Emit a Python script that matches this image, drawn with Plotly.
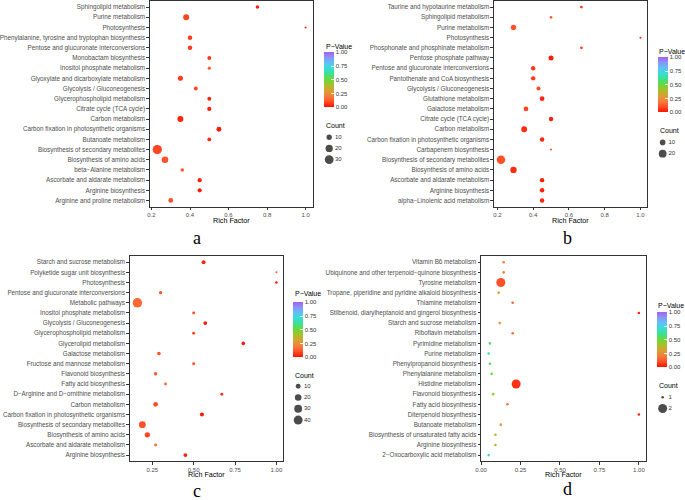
import math
import plotly.graph_objects as go

W, H = 685, 500

# ---------------- data ----------------
a_terms = ["Sphingolipid metabolism", "Purine metabolism", "Photosynthesis",
           "Phenylalanine, tyrosine and tryptophan biosynthesis",
           "Pentose and glucuronate interconversions", "Monobactam biosynthesis",
           "Inositol phosphate metabolism", "Glyoxylate and dicarboxylate metabolism",
           "Glycolysis / Gluconeogenesis", "Glycerophospholipid metabolism",
           "Citrate cycle (TCA cycle)", "Carbon metabolism",
           "Carbon fixation in photosynthetic organisms", "Butanoate metabolism",
           "Biosynthesis of secondary metabolites", "Biosynthesis of amino acids",
           "beta\u2212Alanine metabolism", "Ascorbate and aldarate metabolism",
           "Arginine biosynthesis", "Arginine and proline metabolism"]
a_rich = [0.75, 0.38, 1.0, 0.40, 0.40, 0.50, 0.50, 0.35, 0.43, 0.50,
          0.50, 0.35, 0.55, 0.50, 0.23, 0.27, 0.36, 0.45, 0.45, 0.30]
a_count = [4, 13, 1, 7, 7, 5, 3, 9, 5, 5, 6, 13, 8, 5, 33, 16, 4, 6, 6, 8]
a_p = [0.02, 0.08, 0.02, 0.07, 0.07, 0.06, 0.12, 0.07, 0.08, 0.03,
       0.02, 0.03, 0.01, 0.04, 0.08, 0.10, 0.12, 0.02, 0.02, 0.10]
a_breaks = [10, 20, 30]

b_terms = ["Taurine and hypotaurine metabolism", "Sphingolipid metabolism",
           "Purine metabolism", "Photosynthesis",
           "Phosphonate and phosphinate metabolism", "Pentose phosphate pathway",
           "Pentose and glucuronate interconversions", "Pantothenate and CoA biosynthesis",
           "Glycolysis / Gluconeogenesis", "Glutathione metabolism",
           "Galactose metabolism", "Citrate cycle (TCA cycle)", "Carbon metabolism",
           "Carbon fixation in photosynthetic organisms", "Carbapenem biosynthesis",
           "Biosynthesis of secondary metabolites", "Biosynthesis of amino acids",
           "Ascorbate and aldarate metabolism", "Arginine biosynthesis",
           "alpha\u2212Linolenic acid metabolism"]
b_rich = [0.67, 0.50, 0.29, 1.0, 0.67, 0.50, 0.40, 0.40, 0.43, 0.45,
          0.36, 0.50, 0.35, 0.45, 0.50, 0.22, 0.29, 0.45, 0.45, 0.45]
b_count = [2, 2, 9, 1, 2, 8, 6, 6, 5, 7, 7, 6, 11, 6, 1, 24, 13, 6, 6, 6]
b_p = [0.06, 0.12, 0.10, 0.03, 0.06, 0.02, 0.06, 0.06, 0.09, 0.03,
       0.08, 0.02, 0.04, 0.03, 0.12, 0.10, 0.04, 0.02, 0.02, 0.03]
b_breaks = [10, 20]

c_terms = ["Starch and sucrose metabolism", "Polyketide sugar unit biosynthesis",
           "Photosynthesis", "Pentose and glucuronate interconversions",
           "Metabolic pathways", "Inositol phosphate metabolism",
           "Glycolysis / Gluconeogenesis", "Glycerophospholipid metabolism",
           "Glycerolipid metabolism", "Galactose metabolism",
           "Fructose and mannose metabolism", "Flavonoid biosynthesis",
           "Fatty acid biosynthesis", "D\u2212Arginine and D\u2212ornithine metabolism",
           "Carbon metabolism", "Carbon fixation in photosynthetic organisms",
           "Biosynthesis of secondary metabolites", "Biosynthesis of amino acids",
           "Ascorbate and aldarate metabolism", "Arginine biosynthesis"]
c_rich = [0.56, 1.0, 1.0, 0.30, 0.16, 0.50, 0.57, 0.50, 0.80, 0.29,
          0.50, 0.27, 0.33, 0.67, 0.27, 0.55, 0.19, 0.22, 0.27, 0.45]
c_count = [6, 1, 2, 4, 45, 3, 6, 3, 5, 5, 3, 5, 3, 3, 9, 7, 22, 12, 3, 6]
c_p = [0.02, 0.12, 0.01, 0.12, 0.15, 0.10, 0.02, 0.08, 0.01, 0.10,
       0.10, 0.14, 0.16, 0.05, 0.09, 0.02, 0.10, 0.08, 0.16, 0.03]
c_breaks = [10, 20, 30, 40]

d_terms = ["Vitamin B6 metabolism",
           "Ubiquinone and other terpenoid\u2212quinone biosynthesis",
           "Tyrosine metabolism",
           "Tropane, piperidine and pyridine alkaloid biosynthesis",
           "Thiamine metabolism",
           "Stilbenoid, diarylheptanoid and gingerol biosynthesis",
           "Starch and sucrose metabolism", "Riboflavin metabolism",
           "Pyrimidine metabolism", "Purine metabolism",
           "Phenylpropanoid biosynthesis", "Phenylalanine metabolism",
           "Histidine metabolism", "Flavonoid biosynthesis",
           "Fatty acid biosynthesis", "Diterpenoid biosynthesis",
           "Butanoate metabolism", "Biosynthesis of unsaturated fatty acids",
           "Arginine biosynthesis", "2\u2212Oxocarboxylic acid metabolism"]
d_rich = [0.143, 0.143, 0.125, 0.111, 0.2, 1.0, 0.118, 0.2, 0.056, 0.048,
          0.056, 0.067, 0.222, 0.077, 0.167, 1.0, 0.125, 0.091, 0.091, 0.048]
d_count = [1, 1, 2, 1, 1, 1, 1, 1, 1, 1, 1, 1, 2, 1, 1, 1, 1, 1, 1, 1]
d_p = [0.20, 0.20, 0.10, 0.30, 0.15, 0.03, 0.28, 0.15, 0.55, 0.62,
       0.55, 0.50, 0.05, 0.45, 0.18, 0.03, 0.25, 0.35, 0.35, 0.70]
d_breaks = [1, 2]

# ---------------- style ----------------
FONT = "Liberation Sans, Arial, Helvetica, sans-serif"
SERIF = "Liberation Serif, Times New Roman, serif"
CS = [[0.0, "#FF1200"], [0.1, "#FF5128"], [0.2, "#F47E3E"], [0.3, "#D9A032"],
      [0.4, "#A6C02A"], [0.5, "#6AD83A"], [0.6, "#3EE08E"], [0.7, "#36DFD6"],
      [0.8, "#5EC2F6"], [0.9, "#8A96F6"], [1.0, "#A85EF0"]]
LBL = 6.3   # category label size
TTL = 7.0   # titles size


def px_x(x):
    return min(max(x / W, 0.0), 1.0)


def px_y(y):
    return min(max(1 - y / H, 0.0), 1.0)


def sizes(counts, cmin, cmax, dmin, dmax):
    lo, hi = math.sqrt(cmin), math.sqrt(cmax)
    return [dmin + (dmax - dmin) * (math.sqrt(c) - lo) / (hi - lo) for c in counts]


panels = [
    dict(terms=a_terms, rich=a_rich, count=a_count, p=a_p, breaks=a_breaks,
         xr=[0.1915, 1.0385], tv=[0.2, 0.4, 0.6, 0.8, 1.0],
         tt=["0.2", "0.4", "0.6", "0.8", "1.0"],
         xd=(135, 303.3), yd=(0, 206), sz=(1, 35, 2.0, 9.5),
         cb=(315, 79), cbt=(315, 45.5), cnt=(315, 124.5), leg=(320, 136.5, 11.2),
         letter="a", lxy=(184, 237)),
    dict(terms=b_terms, rich=b_rich, count=b_count, p=b_p, breaks=b_breaks,
         xr=[0.181, 1.039], tv=[0.2, 0.4, 0.6, 0.8, 1.0],
         tt=["0.2", "0.4", "0.6", "0.8", "1.0"],
         xd=(490, 648.3), yd=(0, 206), sz=(1, 24, 2.0, 8.5),
         cb=(659, 84), cbt=(658, 51), cnt=(659, 130), leg=(664, 141.7, 11.3),
         letter="b", lxy=(566, 237)),
    dict(terms=c_terms, rich=c_rich, count=c_count, p=c_p, breaks=c_breaks,
         xr=[0.114, 1.042], tv=[0.25, 0.5, 0.75, 1.0],
         tt=["0.25", "0.50", "0.75", "1.00"],
         xd=(114.3, 272.7), yd=(255.6, 461.1), sz=(1, 45, 2.0, 9.5),
         cb=(283, 329.5), cbt=(283, 293.5), cnt=(283, 375), leg=(288, 386, 11.3),
         letter="c", lxy=(184, 491)),
    dict(terms=d_terms, rich=d_rich, count=d_count, p=d_p, breaks=d_breaks,
         xr=[-0.0, 1.048], tv=[0.0, 0.25, 0.5, 0.75, 1.0],
         tt=["0.00", "0.25", "0.50", "0.75", "1.00"],
         xd=(476.7, 647.3), yd=(255.6, 461.1), sz=(1, 2, 2.6, 9.0),
         cb=(658, 339.5), cbt=(657, 305.5), cnt=(658, 385), leg=(664, 397, 11.3),
         letter="d", lxy=(566, 489)),
]

fig = go.Figure()
layout = dict(width=W, height=H, margin=dict(l=0, r=0, t=0, b=0),
              paper_bgcolor="white", plot_bgcolor="white", showlegend=False,
              font=dict(family=FONT, size=6, color="#4D4D4D"))
annotations = []

for i, pnl in enumerate(panels):
    k = i + 1
    ks = "" if k == 1 else str(k)
    n = len(pnl["terms"])
    cmin, cmax, dmin, dmax = pnl["sz"]
    fig.add_trace(go.Scatter(
        x=pnl["rich"], y=pnl["terms"], mode="markers",
        marker=dict(size=sizes(pnl["count"], cmin, cmax, dmin, dmax),
                    color=pnl["p"], coloraxis="coloraxis" + ks,
                    line=dict(width=0), opacity=1),
        xaxis="x" + ks, yaxis="y" + ks, hoverinfo="x+y"))

    layout["xaxis" + ks] = dict(
        domain=[px_x(pnl["xd"][0]), px_x(pnl["xd"][1])], range=pnl["xr"],
        anchor="y" + ks, showgrid=False, zeroline=False, showline=True,
        linecolor="#333333", linewidth=1, mirror=True, ticks="outside",
        ticklen=2.5, tickwidth=0.7, tickcolor="#333333",
        tickvals=pnl["tv"], ticktext=pnl["tt"],
        tickfont=dict(size=6, color="#4D4D4D", family=FONT))
    layout["yaxis" + ks] = dict(
        domain=[px_y(pnl["yd"][1]), px_y(pnl["yd"][0])],
        type="category", categoryorder="array", categoryarray=pnl["terms"],
        range=[n - 0.4, -0.6], anchor="x" + ks, showgrid=False, zeroline=False,
        showline=True, linecolor="#333333", linewidth=1, mirror=True,
        ticks="outside", ticklen=2.5, tickwidth=0.7, tickcolor="#333333",
        tickfont=dict(size=LBL, color="#4D4D4D", family=FONT))

    cbx, cby = pnl["cb"]
    layout["coloraxis" + ks] = dict(
        cmin=0, cmax=1, colorscale=CS,
        colorbar=dict(x=px_x(cbx), xanchor="left", y=px_y(cby), yanchor="middle",
                      len=55, lenmode="pixels", thickness=10,
                      thicknessmode="pixels", xpad=0, ypad=0, outlinewidth=0,
                      tickvals=[0, 0.25, 0.5, 0.75, 1.0],
                      ticktext=["0.00", "0.25", "0.50", "0.75", "1.00"],
                      ticks="inside", ticklen=2.5, tickcolor="white",
                      tickfont=dict(size=6, color="#333333", family=FONT)))

    annotations.append(dict(x=px_x(pnl["cbt"][0]), y=px_y(pnl["cbt"][1]),
                            xref="paper", yref="paper", text="P\u2212Value",
                            showarrow=False, xanchor="left", yanchor="middle",
                            font=dict(size=TTL, color="black", family=FONT)))
    annotations.append(dict(x=px_x(pnl["cnt"][0]), y=px_y(pnl["cnt"][1]),
                            xref="paper", yref="paper", text="Count",
                            showarrow=False, xanchor="left", yanchor="middle",
                            font=dict(size=TTL, color="black", family=FONT)))
    # x-axis title
    annotations.append(dict(x=px_x((pnl["xd"][0] + pnl["xd"][1]) / 2),
                            y=px_y(pnl["yd"][1] + 13.5),
                            xref="paper", yref="paper", text="Rich Factor",
                            showarrow=False, xanchor="center", yanchor="middle",
                            font=dict(size=7.2, color="black", family=FONT)))
    annotations.append(dict(x=px_x(pnl["lxy"][0]), y=px_y(pnl["lxy"][1]),
                            xref="paper", yref="paper", text=pnl["letter"],
                            showarrow=False, xanchor="center", yanchor="middle",
                            font=dict(size=18, color="black", family=SERIF)))

    # size legend drawn on a hidden helper axis
    lk = str(k + 4)
    dx, y0, step = pnl["leg"]
    nb = len(pnl["breaks"])
    top = y0 - step / 2
    bot = y0 + step * (nb - 1) + step / 2
    labels = [str(b) for b in pnl["breaks"]]
    layout["xaxis" + lk] = dict(domain=[(dx - 10) / W, (dx + 20) / W],
                                range=[-10, 20], visible=False, anchor="y" + lk,
                                fixedrange=True)
    layout["yaxis" + lk] = dict(domain=[px_y(bot), px_y(top)], type="category",
                                categoryorder="array", categoryarray=labels,
                                range=[nb - 0.5, -0.5], visible=False,
                                anchor="x" + lk, fixedrange=True)
    fig.add_trace(go.Scatter(
        x=[0] * nb, y=labels, mode="markers",
        marker=dict(size=sizes(pnl["breaks"], cmin, cmax, dmin, dmax),
                    color="black", line=dict(width=0)),
        xaxis="x" + lk, yaxis="y" + lk, hoverinfo="skip"))
    fig.add_trace(go.Scatter(
        x=[6] * nb, y=labels, mode="text", text=labels,
        textposition="middle right",
        textfont=dict(size=6, color="#333333", family=FONT),
        xaxis="x" + lk, yaxis="y" + lk, hoverinfo="skip"))

layout["annotations"] = annotations
fig.update_layout(**layout)
fig.write_html("out.html", config={"displayModeBar": False},
               post_script="document.body.style.margin='0px';"
                           "document.body.style.overflow='hidden';")
